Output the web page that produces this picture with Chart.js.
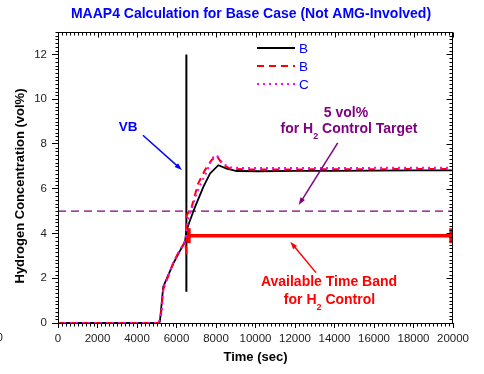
<!DOCTYPE html>
<html>
<head>
<meta charset="utf-8">
<script src="https://cdn.jsdelivr.net/npm/chart.js@4.4.1/dist/chart.umd.min.js"></script>
<style>
html,body{margin:0;padding:0;background:#fff;}
#wrap{width:484px;height:374px;}
</style>
</head>
<body>
<div id="wrap"><canvas id="chartH2"></canvas></div>
<script>
// ==========================
// DATA
// ==========================

// B, solid black
const timeB = [0, 4400, 5100, 5160, 5330, 5840, 6100, 6430, 6500, 6650, 6940, 7360, 7700, 8120, 8540, 9050, 10200, 12000, 14000, 16000, 18000, 20000];
const h2B = [0, 0, 0, 0.06, 1.62, 2.66, 3.1, 3.63, 4.1, 4.5, 5.19, 6.08, 6.68, 7.05, 6.9, 6.79, 6.78, 6.8, 6.8, 6.81, 6.82, 6.82];

// B, red dashed
const timeB2 = [0, 4400, 5100, 5200, 5330, 5840, 6100, 6450, 6500, 6510, 6770, 7100, 7440, 7780, 8030, 8370, 8710, 9500, 12000, 14000, 16000, 18000, 20000];
const h2B2 = [0, 0, 0, 0.3, 1.5, 2.7, 3.15, 3.65, 3.0, 4.8, 5.19, 6.24, 6.83, 7.28, 7.47, 7.05, 6.9, 6.86, 6.86, 6.87, 6.87, 6.88, 6.88];

// C, magenta dotted
const timeC = [0, 5100, 5250, 5333, 5840, 6100, 6450, 6600, 6850, 7020, 7275, 7530, 7780, 8030, 8370, 8710, 9500, 12000, 16000, 20000];
const h2C = [0, 0, 0.5, 1.55, 2.7, 3.15, 3.7, 4.67, 5.34, 5.79, 6.31, 6.75, 7.35, 7.5, 7.1, 6.95, 6.92, 6.92, 6.93, 6.93];

// VB spike
const timeVB = [6500, 6500];
const h2VB = [12, 1.4];

// 5 vol% target
const timeTarget = [0, 20000];
const h2Target = [5, 5];

// available time band
const timeBand = [6630, 19900];
const h2Band = [3.9, 3.9];

// axes
const xTickStep = 2000;
const xMinorStep = 200;
const yTickStep = 2;
const yMinorPerMajor = 12;

const judul = "MAAP4 Calculation for Base Case (Not AMG-Involved)";
const judulY = "Hydrogen Concentration (vol%)";
const judulX = "Time (sec)";


const FONT = "Arial, 'Liberation Sans', sans-serif";
Chart.defaults.font.family = FONT;
Chart.defaults.color = "#222";

function titik(xs, ys){
    return xs.map((v, i) => ({x: v, y: ys[i]}));
}


// ==========================
// ANNOTATIONS (data units)
// ==========================

const catatan = [
    {teks: [["VB", false]], x: 3550, y: 8.75, warna: "#0000ff", ukuran: 13.5},
    {teks: [["5 vol%", false]], x: 14582, y: 9.36, warna: "#800080", ukuran: 14},
    {teks: [["for H", false], ["2", true], [" Control Target", false]], x: 14734, y: 8.65, warna: "#800080", ukuran: 14},
    {teks: [["Available Time Band", false]], x: 13722, y: 1.82, warna: "#ff0000", ukuran: 14},
    {teks: [["for H", false], ["2", true], [" Control", false]], x: 13747, y: 1.03, warna: "#ff0000", ukuran: 14}
];

const panahList = [
    {x1: 4300, y1: 8.39, x2: 6278, y2: 6.83, warna: "#0000ff"},
    {x1: 14162, y1: 8.05, x2: 12187, y2: 5.27, warna: "#800080"},
    {x1: 13063, y1: 2.25, x2: 11762, y2: 3.63, warna: "#ff0000"}
];


function panah(ctx, x1, y1, x2, y2, warna){
    const s = Math.atan2(y2 - y1, x2 - x1);
    const k = 8;
    ctx.strokeStyle = warna;
    ctx.fillStyle = warna;
    ctx.lineWidth = 1.5;
    ctx.setLineDash([]);
    ctx.beginPath();
    ctx.moveTo(x1, y1);
    ctx.lineTo(x2 - Math.cos(s) * k * 0.7, y2 - Math.sin(s) * k * 0.7);
    ctx.stroke();
    ctx.beginPath();
    ctx.moveTo(x2, y2);
    ctx.lineTo(x2 - k * Math.cos(s - 0.33), y2 - k * Math.sin(s - 0.33));
    ctx.lineTo(x2 - k * Math.cos(s + 0.33), y2 - k * Math.sin(s + 0.33));
    ctx.closePath();
    ctx.fill();
}

function teksSub(ctx, bagian, cx, cy, ukuran, warna){
    const besar = "bold " + ukuran + "px " + FONT;
    const kecil = "bold " + Math.round(ukuran * 0.62) + "px " + FONT;
    let total = 0;
    bagian.forEach(b => { ctx.font = b[1] ? kecil : besar; total += ctx.measureText(b[0]).width; });
    let xx = cx - total / 2;
    ctx.textAlign = "left";
    ctx.textBaseline = "middle";
    ctx.fillStyle = warna;
    bagian.forEach(b => {
        ctx.font = b[1] ? kecil : besar;
        ctx.fillText(b[0], xx, b[1] ? cy + ukuran * 0.52 : cy);
        xx += ctx.measureText(b[0]).width;
    });
}


// ==========================
// PLUGIN: frame, minor ticks, texts, legend
// ==========================

const hiasan = {
    id: "hiasan",
    afterDraw(chart){
        const {ctx, chartArea: a} = chart;
        const sx = chart.scales.x, sy = chart.scales.y;
        const L = Math.round(a.left) + 0.5, R = Math.round(a.right) - 0.5;
        const T = Math.round(a.top) + 0.5, B = Math.round(a.bottom) + 0.5;
        ctx.save();

        // frame
        ctx.strokeStyle = "#000";
        ctx.lineWidth = 1;
        ctx.setLineDash([]);
        ctx.strokeRect(L, T, R - L, B - T);

        // x ticks (minor everywhere, major on top)
        ctx.beginPath();
        for (let v = 0; v <= sx.max; v += xMinorStep){
            const px = Math.round(sx.getPixelForValue(v)) + 0.5;
            const major = v % xTickStep === 0;
            if (!major){
                ctx.moveTo(px, B); ctx.lineTo(px, B + 3);
            }
            ctx.moveTo(px, T); ctx.lineTo(px, T + (major ? 5 : 3));
        }
        // y ticks
        for (let i = 0; i <= 13 * yMinorPerMajor / yTickStep; i++){
            const v = i * yTickStep / yMinorPerMajor;
            if (v > sy.max) break;
            const py = Math.round(sy.getPixelForValue(v)) + 0.5;
            const major = i % yMinorPerMajor === 0;
            if (!major){
                ctx.moveTo(L, py); ctx.lineTo(L - 3, py);
            }
            ctx.moveTo(R, py); ctx.lineTo(R - (major ? 6 : 3), py);
        }
        ctx.stroke();

        // title
        ctx.fillStyle = "#0000ff";
        ctx.font = "bold 14px " + FONT;
        ctx.textAlign = "center";
        ctx.textBaseline = "middle";
        ctx.fillText(judul, 251, 14);

        // y title
        ctx.save();
        ctx.translate(20, 186);
        ctx.rotate(-Math.PI / 2);
        ctx.fillStyle = "#000";
        ctx.font = "bold 13px " + FONT;
        ctx.fillText(judulY, 0, 0);
        ctx.restore();

        // cut-off label at the left edge
        ctx.fillStyle = "#222";
        ctx.font = "11.5px " + FONT;
        ctx.textAlign = "right";
        ctx.fillText("0", 3, 338);

        // annotations
        catatan.forEach(c => teksSub(ctx, c.teks, sx.getPixelForValue(c.x), sy.getPixelForValue(c.y), c.ukuran, c.warna));
        panahList.forEach(p => panah(ctx,
            sx.getPixelForValue(p.x1), sy.getPixelForValue(p.y1),
            sx.getPixelForValue(p.x2), sy.getPixelForValue(p.y2), p.warna));

        // legend
        const ds = chart.data.datasets.filter(d => d.legenda);
        ds.forEach((d, i) => {
            const yy = a.top + 16 + i * 18;
            const x0 = a.right - 196;
            ctx.strokeStyle = d.borderColor;
            ctx.lineWidth = d.borderWidth;
            ctx.setLineDash(d.borderDash || []);
            ctx.beginPath();
            ctx.moveTo(x0, yy); ctx.lineTo(x0 + 38, yy);
            ctx.stroke();
            ctx.fillStyle = "#0000ff";
            ctx.font = "13.5px " + FONT;
            ctx.textAlign = "left";
            ctx.textBaseline = "middle";
            ctx.fillText(d.label, x0 + 42, yy + 1);
        });

        ctx.restore();
    }
};


// ==========================
// CHART
// ==========================

new Chart(
document.getElementById("chartH2"),
{
    type: "line",

    data: {
        datasets: [
            {
                label: "B", legenda: true,
                data: titik(timeB, h2B),
                borderColor: "#000000", borderWidth: 1.8,
                order: 3
            },
            {
                label: "B", legenda: true,
                data: titik(timeB2, h2B2),
                borderColor: "#ff0000", borderWidth: 2, borderDash: [7, 5],
                order: 2
            },
            {
                label: "C", legenda: true,
                data: titik(timeC, h2C),
                borderColor: "#ff00ff", borderWidth: 2, borderDash: [2, 4],
                order: 1
            },
            {
                label: "VB",
                data: titik(timeVB, h2VB),
                borderColor: "#000000", borderWidth: 2,
                order: 4
            },
            {
                label: "Target",
                data: titik(timeTarget, h2Target),
                borderColor: "#800080", borderWidth: 1.2, borderDash: [8, 5],
                order: 6
            },
            {
                label: "Band",
                data: titik(timeBand, h2Band),
                borderColor: "#ff0000", borderWidth: 3.5,
                pointRadius: 7.5, pointStyle: "line", rotation: 90,
                pointBorderColor: "#ff0000", pointBorderWidth: 3.5,
                clip: false,
                order: 5
            }
        ]
    },

    options: {
        responsive: true,
        maintainAspectRatio: false,
        devicePixelRatio: 1,
        animation: false,
        events: [],
        elements: {
            point: {radius: 0},
            line: {tension: 0, fill: false}
        },
        layout: {
            padding: {top: 32, right: 31, left: 0, bottom: 0}
        },
        plugins: {
            legend: {display: false},
            tooltip: {enabled: false}
        },
        scales: {
            x: {
                type: "linear",
                min: 0,
                max: 20000,
                afterFit: s => { s.height = 51; },
                ticks: {
                    stepSize: xTickStep,
                    includeBounds: false,
                    maxRotation: 0,
                    autoSkip: false,
                    padding: 4,
                    font: {size: 11.5},
                    callback: v => String(v)
                },
                grid: {
                    drawOnChartArea: false,
                    drawTicks: true,
                    tickLength: 5,
                    color: "#000"
                },
                border: {display: true, color: "#000", width: 1},
                title: {
                    display: true,
                    text: judulX,
                    color: "#000",
                    font: {size: 13, weight: "bold"},
                    padding: {top: 0, bottom: 9}
                }
            },
            y: {
                type: "linear",
                min: 0,
                max: 13,
                afterFit: s => { s.width = 58; },
                ticks: {
                    stepSize: yTickStep,
                    includeBounds: false,
                    padding: 5,
                    font: {size: 11.5}
                },
                grid: {
                    drawOnChartArea: false,
                    drawTicks: true,
                    tickLength: 6,
                    color: "#000"
                },
                border: {display: true, color: "#000", width: 1}
            }
        }
    },

    plugins: [hiasan]
});
</script>
</body>
</html>
